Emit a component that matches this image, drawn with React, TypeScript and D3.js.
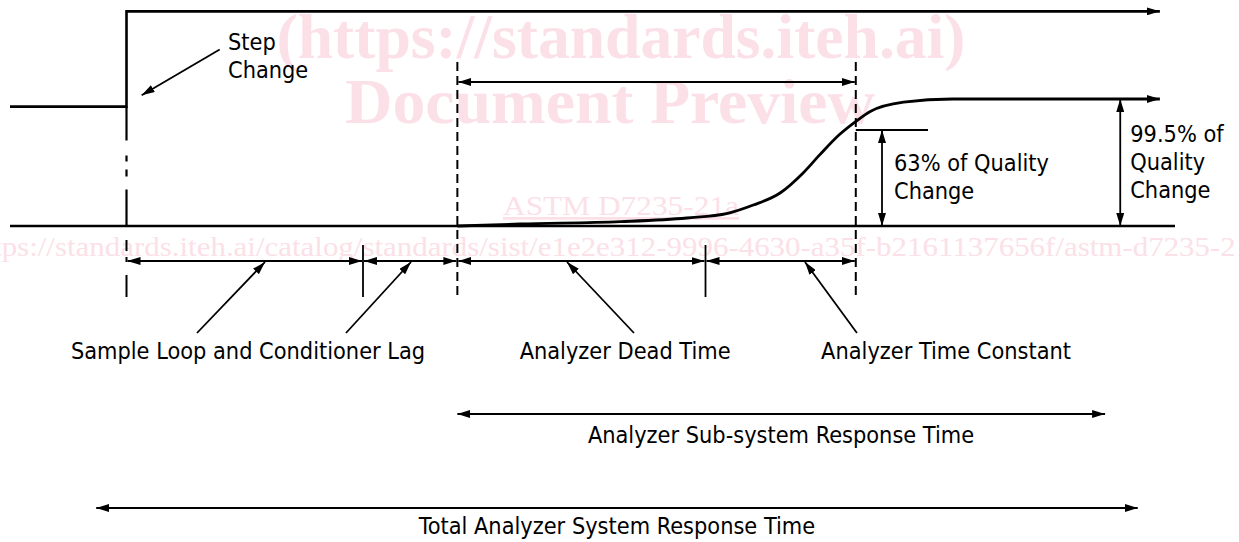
import React from 'react';
import * as d3 from 'd3';

// time axis in arbitrary units, the step change happens at 0
const timeDomain = [-10, 90];
const signalStart = -10;
const stepTime = 0;
const loopLagEnd = 20.3;
const analyzerStart = 28.4;
const deadTimeEnd = 49.7;
const timeConstantEnd = 62.6;
const fullChangeAt = 85.3;
const subSystemEnd = 84.0;
const totalStart = -2.6;
const totalEnd = 86.8;
const signalEnd = 88.7;
const baselineEnd = 90;
const level63At = 64.85;
const level63LineEnd = 68.8;

// quality, 0 = before the change, 1 = after the full change
const inputLevels = [0.94, 1.69];
const level63 = 0.756;

// analyzer output
const responseTime = [28.4, 33.8, 42.4, 48.1, 51.6, 53.8, 56.1, 58.1, 59.5, 61.2, 62.7, 63.8, 66.7, 70.9, 88.7];
const responseQuality = [0, 0.016, 0.034, 0.063, 0.1, 0.165, 0.26, 0.42, 0.56, 0.72, 0.83, 0.9, 0.975, 1.0, 1.0];

const intervalLabels = ['Sample Loop and Conditioner Lag', 'Analyzer Dead Time', 'Analyzer Time Constant'];
const intervalLabelAt = [10.43, 42.8, 70.35];
const leaderFrom = [6.05, 18.84, 43.56, 62.7];
const leaderTo = [11.89, 24.42, 37.81, 58.24];
const stepLabel = ['Step', 'Change'];
const label63 = ['63% of Quality', 'Change'];
const label995 = ['99.5% of', 'Quality', 'Change'];
const subSystemLabel = 'Analyzer Sub-system Response Time';
const totalLabel = 'Total Analyzer System Response Time';

const watermarkTitle = ['(https://standards.iteh.ai)', 'Document Preview'];
const watermarkCode = 'ASTM D7235-21a';
const watermarkUrl = 'https://standards.iteh.ai/catalog/standards/sist/e1e2e312-9996-4630-a35f-b2161137656f/astm-d7235-21a';

const W = 1239;
const H = 542;
const FONT = "'DejaVu Sans Condensed', 'DejaVu Sans', sans-serif";

const App = () => {
  const ref = React.useRef<SVGSVGElement>(null);

  React.useEffect(() => {
    if (!ref.current) return;
    const svg = d3.select(ref.current);
    svg.selectAll('*').remove();

    const x = d3.scaleLinear().domain(timeDomain).range([10, 1175]);
    const y = d3.scaleLinear().domain([0, 1]).range([226, 99]);

    // rows below the plot (pixels)
    const dimY = 261;
    const tickTop = 245;
    const tickBottom = 297;
    const leaderBottom = 333;
    const labelY = 359;
    const subY = 414;
    const totalY = 508;

    const defs = svg.append('defs');
    defs.append('marker')
      .attr('id', 'arr')
      .attr('viewBox', '0 0 13 8')
      .attr('refX', 13)
      .attr('refY', 4)
      .attr('markerWidth', 13)
      .attr('markerHeight', 8)
      .attr('markerUnits', 'userSpaceOnUse')
      .attr('orient', 'auto-start-reverse')
      .append('path')
      .attr('d', 'M0,0L13,4L0,8Z')
      .attr('fill', '#000');

    /* watermark */
    const wm = svg.append('g').attr('fill', '#fbe1e7').attr('font-family', "'Liberation Serif', serif");
    const titleWidth = [689, 530];
    const titleCenter = [621, 610];
    wm.selectAll('text.title')
      .data(watermarkTitle)
      .enter()
      .append('text')
      .attr('class', 'title')
      .attr('x', (d, i) => titleCenter[i] - titleWidth[i] / 2)
      .attr('y', (d, i) => 58 + i * 65)
      .attr('font-weight', 'bold')
      .attr('font-size', 64)
      .attr('textLength', (d, i) => titleWidth[i])
      .attr('lengthAdjust', 'spacingAndGlyphs')
      .text(d => d);
    wm.append('text')
      .attr('x', 503)
      .attr('y', 215)
      .attr('font-size', 27)
      .attr('textLength', 236)
      .attr('lengthAdjust', 'spacingAndGlyphs')
      .attr('text-decoration', 'underline')
      .text(watermarkCode);
    wm.append('text')
      .attr('x', -31)
      .attr('y', 256)
      .attr('font-size', 27)
      .attr('textLength', 1296)
      .attr('lengthAdjust', 'spacingAndGlyphs')
      .text(watermarkUrl);

    const g = svg.append('g').attr('stroke', '#000').attr('fill', 'none');

    /* input step signal */
    g.append('path')
      .attr('stroke-width', 2.6)
      .attr('marker-end', 'url(#arr)')
      .attr('d', `M${x(signalStart)},${y(inputLevels[0])}H${x(stepTime)}V${y(inputLevels[1])}H${x(signalEnd)}`);
    g.append('line')
      .attr('x1', x(stepTime)).attr('x2', x(stepTime))
      .attr('y1', y(inputLevels[0])).attr('y2', y(0))
      .attr('stroke-width', 2.2)
      .attr('stroke-dasharray', '34,15,6,8,7,13,40');

    /* baseline */
    g.append('line')
      .attr('x1', x(signalStart)).attr('x2', x(baselineEnd))
      .attr('y1', y(0)).attr('y2', y(0))
      .attr('stroke-width', 2.4);

    /* analyzer response */
    const line = d3.line<number>()
      .x((d, i) => x(responseTime[i]))
      .y(d => y(d))
      .curve(d3.curveMonotoneX);
    g.append('path')
      .attr('d', line(responseQuality))
      .attr('stroke-width', 2.8)
      .attr('marker-end', 'url(#arr)');

    /* 63% and 99.5% levels */
    g.append('line')
      .attr('x1', x(timeConstantEnd)).attr('x2', x(level63LineEnd))
      .attr('y1', y(level63)).attr('y2', y(level63))
      .attr('stroke-width', 1.8);
    [[level63At, level63], [fullChangeAt, 1]].forEach(([t, q]) => {
      g.append('line')
        .attr('x1', x(t)).attr('x2', x(t))
        .attr('y1', y(q)).attr('y2', y(0))
        .attr('stroke-width', 1.8)
        .attr('marker-start', 'url(#arr)')
        .attr('marker-end', 'url(#arr)');
    });

    /* dashed event lines */
    [analyzerStart, timeConstantEnd].forEach(t => {
      g.append('line')
        .attr('x1', x(t)).attr('x2', x(t))
        .attr('y1', 62).attr('y2', tickBottom)
        .attr('stroke-width', 2)
        .attr('stroke-dasharray', '9,5');
    });
    g.append('line')
      .attr('x1', x(stepTime)).attr('x2', x(stepTime))
      .attr('y1', 240).attr('y2', tickBottom)
      .attr('stroke-width', 2)
      .attr('stroke-dasharray', '11,6,5,13,30');
    [loopLagEnd, deadTimeEnd].forEach(t => {
      g.append('line')
        .attr('x1', x(t)).attr('x2', x(t))
        .attr('y1', tickTop).attr('y2', tickBottom)
        .attr('stroke-width', 1.8);
    });

    /* dead time span above */
    g.append('line')
      .attr('x1', x(analyzerStart) + 1).attr('x2', x(timeConstantEnd) - 1)
      .attr('y1', 82).attr('y2', 82)
      .attr('stroke-width', 1.8)
      .attr('marker-start', 'url(#arr)')
      .attr('marker-end', 'url(#arr)');

    /* interval dimensions */
    const bounds = [stepTime, loopLagEnd, analyzerStart, deadTimeEnd, timeConstantEnd];
    d3.pairs(bounds).forEach(([a, b]) => {
      g.append('line')
        .attr('x1', x(a) + 1).attr('x2', x(b) - 1)
        .attr('y1', dimY).attr('y2', dimY)
        .attr('stroke-width', 1.8)
        .attr('marker-start', 'url(#arr)')
        .attr('marker-end', 'url(#arr)');
    });

    /* leaders */
    leaderFrom.forEach((t, i) => {
      g.append('line')
        .attr('x1', x(t)).attr('y1', leaderBottom)
        .attr('x2', x(leaderTo[i])).attr('y2', dimY + 1)
        .attr('stroke-width', 1.8)
        .attr('marker-end', 'url(#arr)');
    });
    g.append('line')
      .attr('x1', x(8.0)).attr('y1', y(1.39))
      .attr('x2', x(1.3)).attr('y2', y(1.03))
      .attr('stroke-width', 1.8)
      .attr('marker-end', 'url(#arr)');

    /* response time spans */
    g.append('line')
      .attr('x1', x(analyzerStart)).attr('x2', x(subSystemEnd))
      .attr('y1', subY).attr('y2', subY)
      .attr('stroke-width', 1.8)
      .attr('marker-start', 'url(#arr)')
      .attr('marker-end', 'url(#arr)');
    g.append('line')
      .attr('x1', x(totalStart)).attr('x2', x(totalEnd))
      .attr('y1', totalY).attr('y2', totalY)
      .attr('stroke-width', 1.8)
      .attr('marker-start', 'url(#arr)')
      .attr('marker-end', 'url(#arr)');

    /* text */
    const txt = svg.append('g')
      .attr('font-family', FONT)
      .attr('font-stretch', 'condensed')
      .attr('font-size', 23.3)
      .attr('fill', '#000');

    txt.selectAll('text.interval')
      .data(intervalLabels)
      .enter()
      .append('text')
      .attr('class', 'interval')
      .attr('x', (d, i) => x(intervalLabelAt[i]))
      .attr('y', labelY)
      .attr('text-anchor', 'middle')
      .text(d => d);

    const block = (lines: string[], px: number, py: number) => {
      lines.forEach((s, i) => {
        txt.append('text').attr('x', px).attr('y', py + i * 28).text(s);
      });
    };
    block(stepLabel, 228, 50);
    block(label63, x(level63At) + 12, 171);
    block(label995, x(fullChangeAt) + 10, 142);

    txt.append('text')
      .attr('x', 781).attr('y', 443)
      .attr('text-anchor', 'middle')
      .text(subSystemLabel);
    txt.append('text')
      .attr('x', 617).attr('y', 534)
      .attr('text-anchor', 'middle')
      .text(totalLabel);
  }, []);

  return (
    <svg ref={ref} width={W} height={H} style={{display: 'block', position: 'absolute', left: 0, top: 0, background: '#fff'}} />
  );
};

export default App;
